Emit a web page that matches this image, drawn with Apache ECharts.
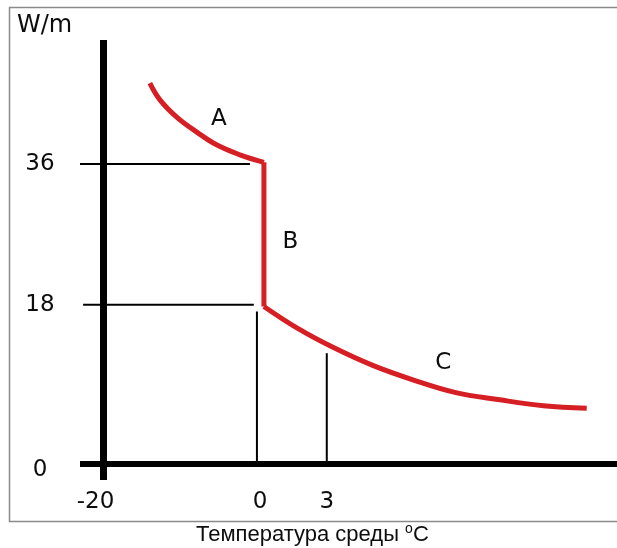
<!DOCTYPE html>
<html>
<head>
<meta charset="utf-8">
<script src="https://cdn.jsdelivr.net/npm/echarts@6/dist/echarts.min.js"></script>
<style>
  html, body { margin: 0; padding: 0; background: #ffffff; }
  #chart { width: 617px; height: 548px; }
</style>
</head>
<body>
<div id="chart"></div>
<script>
// Schematic diagram: positions are in diagram units
// (the original axes are not drawn to a linear scale).
const yTickPos = [0, 19.1, 36];
const yTickLabels = ['0', '18', '36'];
const xTickPos = [-21.0, 0.2, 8.8];
const xTickLabels = ['-20', '0', '3'];
const yAxisAt = -20;   // x position of the vertical axis line
const xAxisAt = 0;     // y position of the horizontal axis line

// Red curve: segments A, B, C
const curveA = [[-14.0, 45.7], [-12.7, 43.7], [-10.5, 41.6], [-7.9, 39.8], [-5.4, 38.3], [-2.4, 37.1], [0.7, 36.2]];
const curveB = [[0.7, 36.2], [0.7, 18.9]];
const curveC = [[0.7, 18.9], [5.0, 16.3], [9.6, 14.0], [14.8, 11.8], [19.9, 10.1], [25.3, 8.6], [31.1, 7.7], [36.7, 7.0], [42.3, 6.7]];

// Thin black guide lines
const guide36 = [[-23.0, 36], [-1.1, 36]];
const guide18 = [[-22.6, 19.1], [-0.6, 19.1]];
const guideX0 = [[-0.2, 18.3], [-0.2, 0]];
const guideX3 = [[8.8, 13.3], [8.8, 0]];

// Segment letters
const segLabels = [[-5.1, 41.4, 'A'], [4.1, 26.6, 'B'], [23.8, 12.1, 'C']];

const yName = 'W/m';
const xName = 'Температура среды ';

function nearestLabel(v, pos, labels) {
  let best = -1, d = 1e9;
  pos.forEach((p, i) => { const dd = Math.abs(p - v); if (dd < d) { d = dd; best = i; } });
  return d < 0.05 ? labels[best] : '';
}

const chart = echarts.init(document.getElementById('chart'), null, { renderer: 'canvas' });

const guideStyle = { color: '#000000', width: 2 };
function guideSeries(data) {
  return {
    type: 'line', data: data, symbol: 'none', silent: true, z: 3,
    lineStyle: guideStyle, animation: false
  };
}
const red = { color: '#d61f24', width: 5, join: 'round', cap: 'butt' };
function curveSeries(data, smooth) {
  return {
    type: 'line', data: data, symbol: 'none', silent: true, z: 5,
    smooth: smooth, lineStyle: red
  };
}

const txt = '#0d0d0d';

chart.setOption({
  animation: false,
  backgroundColor: '#ffffff',
  graphic: [{
    type: 'rect',
    shape: { x: 9.5, y: 7.5, width: 610, height: 514 },
    style: { fill: 'none', stroke: '#8a8a8a', lineWidth: 1.5 },
    silent: true, z: -10
  }],
  title: [
    {
      text: yName, left: 17, top: 14, padding: 0,
      textStyle: { fontFamily: 'DejaVu Sans', fontSize: 24, fontWeight: 'normal', color: txt }
    },
    {
      text: '{n|' + xName + '}{s|o}{n|C}', left: 196, top: 523, padding: 0,
      textStyle: {
        fontWeight: 'normal',
        rich: {
          n: { fontFamily: 'Liberation Sans', fontSize: 22, fontWeight: 'normal', color: txt, lineHeight: 24 },
          s: { fontFamily: 'Liberation Sans', fontSize: 14, fontWeight: 'normal', color: txt, lineHeight: 24, padding: [0, 0, 12, 0] }
        }
      }
    }
  ],
  grid: { left: 80, right: 0, top: 40, bottom: 68 },
  xAxis: {
    type: 'value', min: -23, max: 46.2,
    axisLine: { show: false, onZero: false },
    axisTick: { show: false },
    splitLine: { show: false },
    axisLabel: {
      customValues: xTickPos,
      margin: 11,
      fontFamily: 'DejaVu Sans', fontSize: 23, color: txt,
      formatter: v => nearestLabel(v, xTickPos, xTickLabels)
    }
  },
  yAxis: {
    type: 'value', min: -1.92, max: 50.88,
    axisLine: { show: false, onZero: false },
    axisTick: { show: false },
    splitLine: { show: false },
    axisLabel: {
      customValues: yTickPos,
      margin: 40, align: 'center',
      fontFamily: 'DejaVu Sans', fontSize: 23, color: txt,
      formatter: v => {
        const t = nearestLabel(v, yTickPos, yTickLabels);
        return v < 0.5 ? '{lo|' + t + '}' : t;
      },
      rich: { lo: { fontFamily: 'DejaVu Sans', fontSize: 23, color: txt, padding: [12, 0, 0, 0] } }
    }
  },
  series: [
    {
      type: 'line', data: [], silent: true, z: 4,
      markLine: {
        silent: true, symbol: 'none', animation: false,
        label: { show: false },
        data: [
          { xAxis: yAxisAt, lineStyle: { color: '#000000', width: 7, type: 'solid' } },
          { yAxis: xAxisAt, lineStyle: { color: '#000000', width: 6, type: 'solid' } }
        ]
      }
    },
    guideSeries(guide36),
    guideSeries(guide18),
    guideSeries(guideX0),
    guideSeries(guideX3),
    curveSeries(curveA, 0.4),
    curveSeries(curveB, false),
    curveSeries(curveC, 0.4),
    {
      type: 'scatter', data: segLabels, symbolSize: 0, silent: true, z: 6,
      itemStyle: { opacity: 1 },
      label: {
        show: true, position: 'inside', opacity: 1,
        formatter: p => p.value[2],
        fontFamily: 'DejaVu Sans', fontSize: 23, color: txt
      }
    }
  ]
});
</script>
</body>
</html>
